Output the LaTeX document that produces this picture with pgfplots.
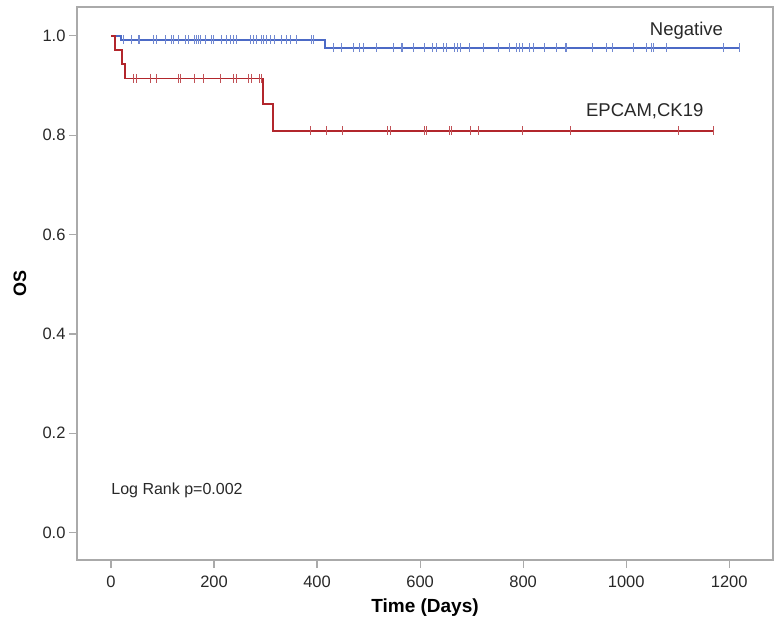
\documentclass[border=0pt]{standalone}
\usepackage{pgfplots}
\pgfplotsset{compat=1.18}
\usepackage{fontspec}
\setmainfont{Liberation Sans}
\definecolor{kmblue}{RGB}{76,106,198}
\definecolor{kmred}{RGB}{178,38,44}
\definecolor{axgray}{RGB}{170,170,170}
\definecolor{txt}{RGB}{40,40,40}
\begin{document}
\begin{tikzpicture}
\begin{axis}[
  width=696bp, height=553bp, scale only axis,
  xmin=-66, xmax=1285, ymin=-0.055, ymax=1.058,
  clip=false,
  axis line style={axgray, line width=1.2bp},
  xtick={0,200,400,600,800,1000,1200},
  ytick={0,0.2,0.4,0.6,0.8,1},
  tick align=outside, tick pos=left,
  tick style={axgray, line width=1.2bp},
  major tick length=8bp,
  /pgf/number format/assume math mode=true,
  /pgf/number format/1000 sep={},
  yticklabel style={/pgf/number format/fixed, /pgf/number format/precision=1, /pgf/number format/fixed zerofill},
  xticklabel style={yshift=-4bp},
  tick label style={font=\fontsize{16.5bp}{19bp}\selectfont, text=txt},
  xlabel={Time (Days)}, ylabel={OS},
  label style={font=\bfseries\fontsize{18bp}{21bp}\selectfont, text=black},
  xlabel style={at={([yshift=-48bp]axis description cs:0.5,0)}, anchor=center, font=\bfseries\fontsize{19bp}{22bp}\selectfont},
  ylabel style={at={([xshift=-57bp]axis description cs:0,0.5)}, anchor=center},
]
% Negative (blue)
\addplot[kmblue, line width=1.7bp, const plot, mark=none] coordinates {
  (0,1) (19,0.992) (415,0.976) (1220,0.976)};
\addplot[only marks, mark=|, mark size=4.5bp, kmblue!80, mark options={line width=1bp}] coordinates {
  (24,0.992) (40,0.992) (53,0.992) (56,0.992) (82,0.992) (89,0.992) (105,0.992) (118,0.992) (121,0.992)
  (131,0.992) (144,0.992) (150,0.992) (163,0.992) (166,0.992) (170,0.992) (173,0.992) (183,0.992)
  (196,0.992) (199,0.992) (215,0.992) (225,0.992) (231,0.992) (237,0.992) (244,0.992) (270,0.992)
  (276,0.992) (283,0.992) (293,0.992) (296,0.992) (302,0.992) (309,0.992) (318,0.992) (331,0.992)
  (341,0.992) (348,0.992) (361,0.992) (390,0.992) (393,0.992)
  (432,0.976) (448,0.976) (470,0.976) (483,0.976) (490,0.976) (516,0.976) (548,0.976) (563,0.976)
  (566,0.976) (587,0.976) (608,0.976) (625,0.976) (631,0.976) (645,0.976) (652,0.976) (666,0.976)
  (672,0.976) (678,0.976) (696,0.976) (723,0.976) (752,0.976) (773,0.976) (788,0.976) (793,0.976)
  (799,0.976) (813,0.976) (820,0.976) (841,0.976) (865,0.976) (882,0.976) (884,0.976) (935,0.976)
  (961,0.976) (974,0.976) (1014,0.976) (1039,0.976) (1050,0.976) (1053,0.976) (1078,0.976)
  (1188,0.976) (1220,0.976)};
% EPCAM,CK19 (red)
\addplot[kmred, line width=1.7bp, const plot, mark=none] coordinates {
  (0,1) (8,0.9714) (21,0.9429) (27,0.9143) (295,0.8623) (315,0.8085) (1170,0.8085)};
\addplot[only marks, mark=|, mark size=4.5bp, kmred!80, mark options={line width=1bp}] coordinates {
  (43,0.9143) (50,0.9143) (76,0.9143) (89,0.9143) (131,0.9143) (134,0.9143) (163,0.9143) (179,0.9143)
  (212,0.9143) (237,0.9143) (243,0.9143) (266,0.9143) (272,0.9143) (289,0.9143) (292,0.9143)
  (387,0.8085) (419,0.8085) (449,0.8085) (537,0.8085) (542,0.8085) (608,0.8085) (612,0.8085)
  (657,0.8085) (660,0.8085) (698,0.8085) (713,0.8085) (799,0.8085) (891,0.8085) (1102,0.8085)
  (1170,0.8085)};
\node[font=\fontsize{18.5bp}{22bp}\selectfont, text=txt] at (axis cs:1117,1.010) {Negative};
\node[font=\fontsize{18.5bp}{22bp}\selectfont, text=txt] at (axis cs:1036,0.848) {EPCAM,CK19};
\node[anchor=west, font=\fontsize{16bp}{19bp}\selectfont, text=txt] at (axis cs:-6,0.0845) {Log Rank p=0.002};
\end{axis}
\path (current axis.south west) ++(-77bp,-63bp) rectangle ++(774bp,623bp);
\end{tikzpicture}
\end{document}
